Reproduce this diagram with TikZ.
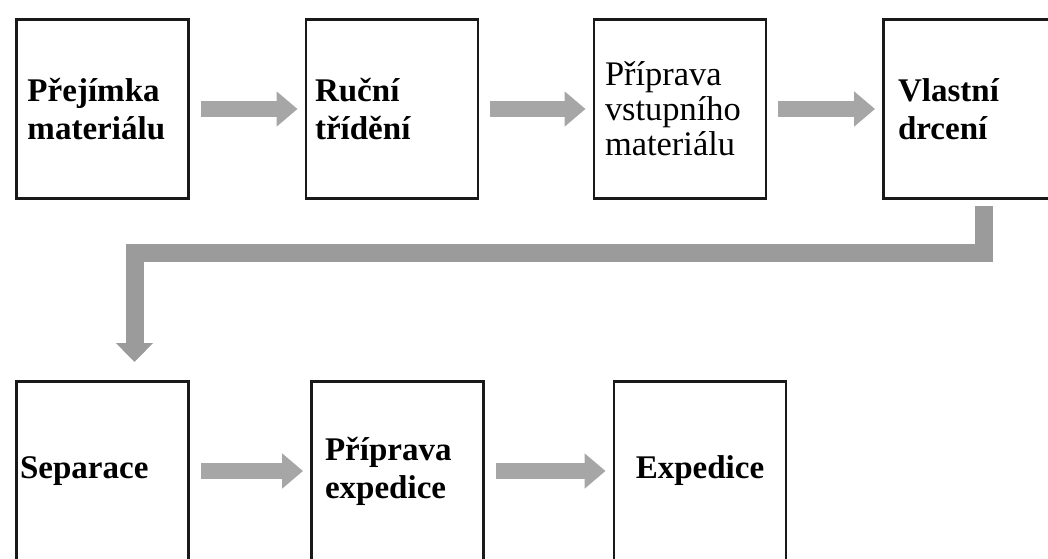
\documentclass[tikz,border=0pt]{standalone}
\usepackage{fontspec}
\setmainfont{Liberation Serif}
\usetikzlibrary{arrows.meta,positioning}
\newlength{\px}
\setlength{\px}{0.025cm}
\definecolor{flowgray}{RGB}{166,166,166}
\definecolor{elbowgray}{RGB}{155,155,155}
\tikzset{
  stage/.style={draw=black!90, line width=2.1pt, rectangle, minimum width=172\px, minimum height=179\px,
    inner xsep=2\px, text width=150\px, align=left, font=\bfseries\fontsize{23.5}{27}\selectfont},
  flow/.style={draw=flowgray, line width=10.7pt, -{Triangle[length=14.9pt,width=24.2pt]},
    shorten <=11\px, shorten >=7\px},
  elbow/.style={draw=elbowgray, line width=12.8pt, -{Triangle[length=13.5pt,width=25.6pt]}}
}

\begin{document}
\begin{tikzpicture}[x=1\px, y=-1\px]
  \useasboundingbox (0,0) rectangle (1048,559);
  % first row
  \node[stage] (prej) at (102.5,109) {Přejímka\\materiálu};
  \node[stage, text width=154\px] (rucni) at (392,109) {Ruční\\třídění};
  \node[stage, font=\fontsize{24.5}{25}\selectfont] (prip) at (680,109) {Příprava\\vstupního\\materiálu};
  \node[stage, text width=143\px] (drc) at (969.5,109) {Vlastní\\drcení};
  % second row
  \node[stage, text width=165\px] (sep) at (102.5,471) {Separace};
  \node[stage, text width=145\px] (pexp) at (397.5,471) {Příprava\\expedice};
  \node[stage, align=center] (exp) at (700,471) {Expedice};

  \draw[flow] (prej) -- (rucni);
  \draw[flow] (rucni) -- (prip);
  \draw[flow] (prip) -- (drc);
  \draw[flow] (sep) -- (pexp);
  \draw[flow] (pexp) -- (exp);
  \draw[elbow, shorten <=6\px, shorten >=18\px] ([xshift=14\px]drc.south) -- ++(0,53) -| ([xshift=32\px]sep.north);
\end{tikzpicture}
\end{document}
